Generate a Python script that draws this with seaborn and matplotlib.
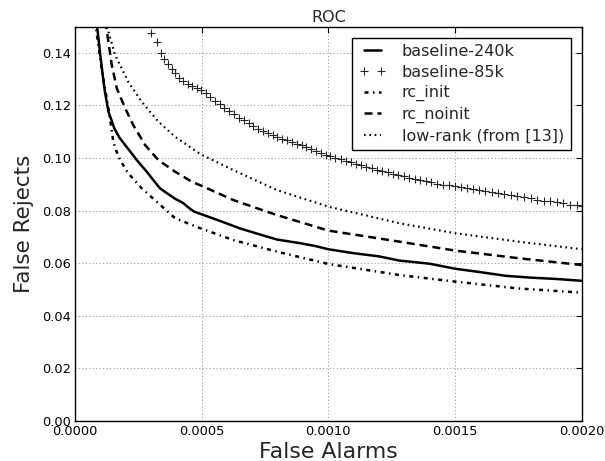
import matplotlib
matplotlib.use("Agg")
import matplotlib.pyplot as plt
import seaborn as sns

sns.set_style("white")
plt.rcParams["font.family"] = ["DejaVu Sans"]

# baseline-240k (solid)
b240_x = [0.000085, 0.0000988, 0.000110, 0.000118, 0.000132, 0.000155, 0.000175,
          0.000198, 0.000220, 0.000244, 0.000265, 0.000283, 0.000310, 0.000335,
          0.000360, 0.000395, 0.000425, 0.000450, 0.000470, 0.000514, 0.000580,
          0.000652, 0.000720, 0.000797, 0.000889, 0.000950, 0.001000, 0.001100,
          0.001200, 0.001280, 0.001400, 0.001500, 0.001600, 0.001700, 0.001800,
          0.001900, 0.002000]
b240_y = [0.152, 0.140, 0.131, 0.1252, 0.1176, 0.1113, 0.1078,
          0.1049, 0.1022, 0.0992, 0.0968, 0.0948, 0.0915, 0.0885,
          0.0868, 0.0845, 0.0830, 0.0810, 0.0796, 0.0781, 0.0758,
          0.0732, 0.0712, 0.0690, 0.0676, 0.0665, 0.0653, 0.0638,
          0.0626, 0.0610, 0.0598, 0.0579, 0.0566, 0.0552, 0.0545,
          0.0540, 0.0533]

# baseline-85k (plus markers)
b85_x = [0.000299, 0.000322, 0.000338, 0.000352, 0.000366, 0.000381, 0.000396,
         0.000412, 0.000428, 0.000445, 0.000462, 0.000480, 0.000498, 0.000516,
         0.000534, 0.000552, 0.000571, 0.000590, 0.000609, 0.000628, 0.000647,
         0.000666, 0.000685, 0.000704, 0.000723, 0.000742, 0.000761, 0.000780,
         0.000799, 0.000818, 0.000837, 0.000856, 0.000875, 0.000894, 0.000913,
         0.000932, 0.000951, 0.000970, 0.000989, 0.001008, 0.001028, 0.001048,
         0.001068, 0.001088, 0.001108, 0.001129, 0.001150, 0.001171, 0.001192,
         0.001213, 0.001234, 0.001255, 0.001276, 0.001297, 0.001319, 0.001341,
         0.001363, 0.001385, 0.001407, 0.001430, 0.001453, 0.001476, 0.001499,
         0.001523, 0.001547, 0.001571, 0.001595, 0.001620, 0.001645, 0.001670,
         0.001695, 0.001720, 0.001746, 0.001772, 0.001798, 0.001824, 0.001850,
         0.001876, 0.001902, 0.001928, 0.001954, 0.001980, 0.002000]
b85_y = [0.1474, 0.1442, 0.1398, 0.1375, 0.1356, 0.1339, 0.1322,
         0.1305, 0.1292, 0.1283, 0.1275, 0.1267, 0.1259, 0.1246,
         0.1232, 0.1218, 0.1204, 0.1191, 0.1178, 0.1166, 0.1154,
         0.1143, 0.1132, 0.1122, 0.1112, 0.1102, 0.1094, 0.1087,
         0.1080, 0.1073, 0.1067, 0.1061, 0.1055, 0.1048, 0.1041,
         0.1034, 0.1026, 0.1019, 0.1013, 0.1007, 0.1001, 0.0995,
         0.0989, 0.0983, 0.0978, 0.0972, 0.0967, 0.0961, 0.0956,
         0.0951, 0.0945, 0.0940, 0.0935, 0.0930, 0.0925, 0.0920,
         0.0915, 0.0911, 0.0907, 0.0903, 0.0899, 0.0896, 0.0893,
         0.0889, 0.0886, 0.0882, 0.0879, 0.0875, 0.0871, 0.0867,
         0.0863, 0.0858, 0.0854, 0.0850, 0.0846, 0.0842, 0.0838,
         0.0835, 0.0831, 0.0827, 0.0823, 0.0820, 0.0817]

# rc_init (dash-dot)
rci_x = [0.000080, 0.0000855, 0.000105, 0.000125, 0.000138, 0.000151, 0.000165,
         0.000178, 0.000210, 0.000263, 0.000329, 0.000395, 0.000494, 0.000625,
         0.000797, 0.001000, 0.001280, 0.001500, 0.001750, 0.002000]
rci_y = [0.152, 0.1474, 0.134, 0.1227, 0.1151, 0.1062, 0.1022,
         0.0992, 0.0942, 0.0885, 0.0828, 0.0771, 0.0733, 0.0688,
         0.0644, 0.0597, 0.0555, 0.0530, 0.0504, 0.0488]

# rc_noinit (dashed)
rcn_x = [0.000120, 0.000125, 0.000145, 0.000165, 0.000198, 0.000230, 0.000277,
         0.000329, 0.000395, 0.000461, 0.000507, 0.000625, 0.000700, 0.000797,
         0.001000, 0.001280, 0.001500, 0.001750, 0.002000]
rcn_y = [0.152, 0.1487, 0.1354, 0.1265, 0.1189, 0.1125, 0.1049,
         0.0992, 0.0948, 0.0910, 0.0891, 0.0840, 0.0815, 0.0783,
         0.0724, 0.0682, 0.0648, 0.0619, 0.0593]

# low-rank (dotted)
lr_x = [0.000125, 0.000132, 0.000158, 0.000210, 0.000263, 0.000329, 0.000395,
        0.000494, 0.000625, 0.000797, 0.001000, 0.001280, 0.001500, 0.001750,
        0.002000]
lr_y = [0.152, 0.148, 0.1392, 0.129, 0.1214, 0.1138, 0.1081,
        0.1015, 0.0954, 0.0878, 0.0815, 0.0752, 0.0714, 0.0682,
        0.0653]

x_ticks = [0.0, 0.0005, 0.0010, 0.0015, 0.0020]
y_ticks = [0.00, 0.02, 0.04, 0.06, 0.08, 0.10, 0.12, 0.14]

fig = plt.figure(figsize=(6.05, 4.61), dpi=100)
ax = fig.add_axes([0.124, 0.0868, 0.8375, 0.8557])

lw = 1.8
sns.lineplot(x=b240_x, y=b240_y, ax=ax, color="black", lw=lw,
             errorbar=None, label="baseline-240k")
sns.lineplot(x=b85_x, y=b85_y, ax=ax, color="black", linestyle="none",
             marker="+", markersize=6, mec="0.15", mew=0.8,
             errorbar=None, label="baseline-85k")
sns.lineplot(x=rci_x, y=rci_y, ax=ax, color="black", lw=lw,
             linestyle=(0, (1.6, 1.8, 0.6, 1.8)), errorbar=None, label="rc_init")
sns.lineplot(x=rcn_x, y=rcn_y, ax=ax, color="black", lw=lw,
             linestyle=(0, (3.2, 2.0)), errorbar=None, label="rc_noinit")
sns.lineplot(x=lr_x, y=lr_y, ax=ax, color="black", lw=lw * 0.85,
             linestyle=(0, (0.8, 1.7)), errorbar=None, label="low-rank (from [13])")

ax.set_xlim(0, 0.002)
ax.set_ylim(0, 0.15)
ax.set_xticks(x_ticks)
ax.set_yticks(y_ticks)
ax.set_xticklabels([f"{t:.4f}" for t in x_ticks])
ax.set_yticklabels([f"{t:.2f}" for t in y_ticks])
ax.tick_params(direction="in", length=4, width=0.8, top=True, right=True,
               labelsize=9.4, pad=3, colors="black")
ax.grid(True, color="0.5", linestyle=(0, (1.5, 3)), linewidth=0.55)
for s in ax.spines.values():
    s.set_color("black")
    s.set_linewidth(1.0)

ax.set_title("ROC", fontsize=11.5, pad=3)
ax.set_xlabel("False Alarms", fontsize=15.8, labelpad=3)
ax.set_ylabel("False Rejects", fontsize=15.5, labelpad=6)

leg = ax.legend(loc="upper right", fontsize=11.5, numpoints=2, fancybox=False,
                framealpha=1, edgecolor="black", handlelength=1.7,
                handletextpad=1.0, borderaxespad=0.7, labelspacing=0.35)
leg.get_frame().set_linewidth(1.0)

fig.savefig("out.png", dpi=100)
